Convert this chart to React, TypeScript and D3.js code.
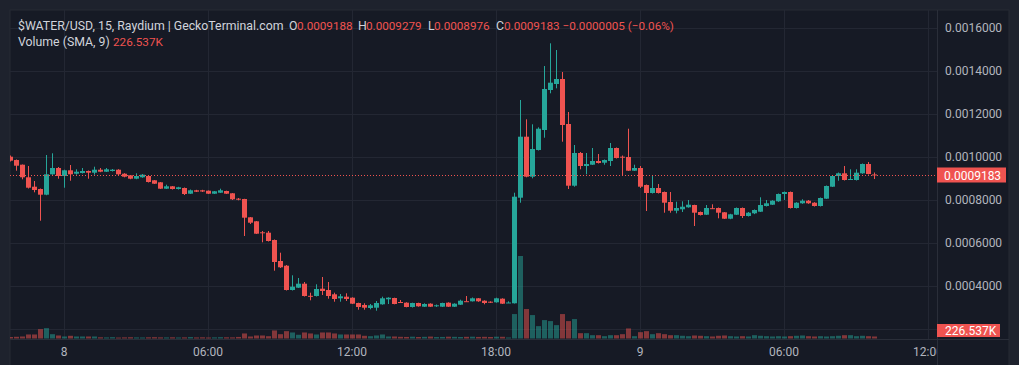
import * as d3 from 'd3';

// $WATER/USD 15m candles, first bar = Jun 7 21:45 (index 0), last bar = Jun 9 09:30
const startTime = new Date(2024, 5, 7, 21, 45);
const barMs = 15 * 60 * 1000;

const open = [
  10014e-7, 9860e-7, 9642e-7, 9056e-7, 8619e-7, 8512e-7, 8247e-7, 9195e-7, 9488e-7, 9116e-7,
  9381e-7, 9223e-7, 9256e-7, 9349e-7, 9270e-7, 9409e-7, 9316e-7, 9349e-7, 9409e-7, 9223e-7,
  9149e-7, 8991e-7, 9056e-7, 9116e-7, 8916e-7, 8823e-7, 8526e-7, 8637e-7, 8512e-7, 8558e-7,
  8293e-7, 8451e-7, 8451e-7, 8433e-7, 8293e-7, 8340e-7, 8419e-7, 8312e-7, 8061e-7, 8047e-7,
  7195e-7, 7009e-7, 6498e-7, 6479e-7, 6140e-7, 5163e-7, 4944e-7, 3814e-7, 3921e-7, 4107e-7,
  3544e-7, 3535e-7, 3875e-7, 3814e-7, 3614e-7, 3428e-7, 3503e-7, 3456e-7, 3210e-7, 3117e-7,
  2977e-7, 2991e-7, 3149e-7, 3382e-7, 3442e-7, 3256e-7, 3224e-7, 3024e-7, 3210e-7, 3037e-7,
  3177e-7, 3056e-7, 3037e-7, 3224e-7, 3037e-7, 3130e-7, 3293e-7, 3288e-7, 3428e-7, 3316e-7,
  3270e-7, 3242e-7, 3410e-7, 3214e-7, 3196e-7, 8107e-7, 10944e-7, 9084e-7, 10326e-7, 11256e-7,
  13116e-7, 13395e-7, 13628e-7, 11535e-7, 8665e-7, 10186e-7, 9581e-7, 9642e-7, 9814e-7, 9735e-7,
  9814e-7, 10419e-7, 10014e-7, 10000e-7, 9363e-7, 9488e-7, 8698e-7, 8326e-7, 8558e-7, 8372e-7,
  7907e-7, 7502e-7, 7568e-7, 7661e-7, 7767e-7, 7442e-7, 7316e-7, 7619e-7, 7628e-7, 7428e-7,
  7130e-7, 7316e-7, 7628e-7, 7256e-7, 7381e-7, 7456e-7, 7721e-7, 7781e-7, 7940e-7, 8279e-7,
  8372e-7, 7628e-7, 7847e-7, 7967e-7, 7874e-7, 7721e-7, 8061e-7, 8619e-7, 9116e-7, 9242e-7,
  8963e-7, 8930e-7, 9242e-7, 9674e-7, 9188e-7,
];

const close = [
  9828e-7, 9595e-7, 9056e-7, 8572e-7, 8465e-7, 8247e-7, 9195e-7, 9488e-7, 9116e-7, 9381e-7,
  9195e-7, 9316e-7, 9349e-7, 9270e-7, 9409e-7, 9316e-7, 9428e-7, 9409e-7, 9195e-7, 9084e-7,
  8991e-7, 9116e-7, 9177e-7, 8837e-7, 8758e-7, 8526e-7, 8637e-7, 8512e-7, 8591e-7, 8279e-7,
  8451e-7, 8386e-7, 8395e-7, 8293e-7, 8405e-7, 8451e-7, 8293e-7, 8033e-7, 8014e-7, 7177e-7,
  6944e-7, 6433e-7, 6474e-7, 6093e-7, 5116e-7, 4870e-7, 3814e-7, 3968e-7, 4107e-7, 3535e-7,
  3521e-7, 3861e-7, 3768e-7, 3535e-7, 3396e-7, 3521e-7, 3396e-7, 3177e-7, 3024e-7, 2991e-7,
  3103e-7, 3210e-7, 3428e-7, 3456e-7, 3163e-7, 3242e-7, 3024e-7, 3210e-7, 3056e-7, 3163e-7,
  3037e-7, 3103e-7, 3210e-7, 3037e-7, 3177e-7, 3316e-7, 3284e-7, 3428e-7, 3288e-7, 3210e-7,
  3233e-7, 3428e-7, 3177e-7, 3233e-7, 8154e-7, 10944e-7, 9084e-7, 10372e-7, 11316e-7, 13163e-7,
  13456e-7, 13628e-7, 11488e-7, 8665e-7, 10186e-7, 9581e-7, 9674e-7, 9814e-7, 9721e-7, 9860e-7,
  10419e-7, 9953e-7, 9986e-7, 9363e-7, 9488e-7, 8619e-7, 8326e-7, 8558e-7, 8326e-7, 7874e-7,
  7502e-7, 7628e-7, 7688e-7, 7781e-7, 7409e-7, 7302e-7, 7628e-7, 7605e-7, 7409e-7, 7130e-7,
  7335e-7, 7628e-7, 7256e-7, 7409e-7, 7535e-7, 7767e-7, 7847e-7, 7967e-7, 8279e-7, 8372e-7,
  7628e-7, 7874e-7, 7967e-7, 7847e-7, 7721e-7, 8093e-7, 8651e-7, 9116e-7, 9242e-7, 8930e-7,
  8977e-7, 9270e-7, 9674e-7, 9209e-7, 9183e-7,
];

const high = [
  10070e-7, 9884e-7, 9651e-7, 9581e-7, 8884e-7, 8535e-7, 10093e-7, 10172e-7, 9535e-7, 9409e-7,
  9628e-7, 9428e-7, 9488e-7, 9372e-7, 9549e-7, 9488e-7, 9488e-7, 9442e-7, 9433e-7, 9247e-7,
  9163e-7, 9242e-7, 9209e-7, 9140e-7, 8930e-7, 8837e-7, 8712e-7, 8651e-7, 8614e-7, 8581e-7,
  8488e-7, 8474e-7, 8474e-7, 8442e-7, 8419e-7, 8526e-7, 8433e-7, 8326e-7, 8093e-7, 8056e-7,
  7209e-7, 7023e-7, 6558e-7, 6558e-7, 6163e-7, 5549e-7, 4977e-7, 4498e-7, 4372e-7, 4186e-7,
  3689e-7, 4079e-7, 4419e-7, 4186e-7, 3689e-7, 3628e-7, 3661e-7, 3475e-7, 3224e-7, 3196e-7,
  3163e-7, 3302e-7, 3503e-7, 3475e-7, 3456e-7, 3349e-7, 3242e-7, 3224e-7, 3224e-7, 3196e-7,
  3196e-7, 3140e-7, 3224e-7, 3242e-7, 3196e-7, 3363e-7, 3535e-7, 3465e-7, 3442e-7, 3335e-7,
  3288e-7, 3456e-7, 3428e-7, 3288e-7, 8340e-7, 12651e-7, 11753e-7, 11521e-7, 11381e-7, 14232e-7,
  15288e-7, 14977e-7, 13953e-7, 12093e-7, 10558e-7, 10233e-7, 10186e-7, 10419e-7, 10140e-7, 9884e-7,
  10651e-7, 10442e-7, 10070e-7, 11316e-7, 9642e-7, 9581e-7, 8721e-7, 9116e-7, 8744e-7, 8395e-7,
  8372e-7, 7921e-7, 7940e-7, 8000e-7, 7781e-7, 7465e-7, 7767e-7, 7800e-7, 7651e-7, 7442e-7,
  7358e-7, 7651e-7, 7651e-7, 7442e-7, 7558e-7, 8126e-7, 8000e-7, 7991e-7, 8302e-7, 8395e-7,
  8395e-7, 7898e-7, 8033e-7, 8000e-7, 7898e-7, 8116e-7, 8674e-7, 9140e-7, 9279e-7, 9581e-7,
  9428e-7, 9428e-7, 9698e-7, 9767e-7, 9279e-7,
];

const low = [
  9791e-7, 9363e-7, 8963e-7, 8535e-7, 8358e-7, 7037e-7, 8223e-7, 9172e-7, 8991e-7, 8572e-7,
  8898e-7, 9177e-7, 9233e-7, 8991e-7, 9177e-7, 9293e-7, 9302e-7, 9326e-7, 9163e-7, 9056e-7,
  8967e-7, 8967e-7, 9033e-7, 8814e-7, 8744e-7, 8512e-7, 8512e-7, 8488e-7, 8488e-7, 8233e-7,
  8279e-7, 8372e-7, 8372e-7, 8279e-7, 8279e-7, 8326e-7, 8279e-7, 8000e-7, 7986e-7, 6326e-7,
  6884e-7, 6419e-7, 6033e-7, 6070e-7, 4712e-7, 4837e-7, 3791e-7, 3791e-7, 3907e-7, 3512e-7,
  3335e-7, 3512e-7, 3582e-7, 3410e-7, 3270e-7, 3270e-7, 3302e-7, 3163e-7, 2898e-7, 2898e-7,
  2916e-7, 2851e-7, 3130e-7, 3163e-7, 3149e-7, 3224e-7, 3009e-7, 3000e-7, 3037e-7, 3024e-7,
  3024e-7, 3024e-7, 3024e-7, 3024e-7, 3024e-7, 3117e-7, 3270e-7, 3279e-7, 3265e-7, 3149e-7,
  3210e-7, 3224e-7, 3163e-7, 3210e-7, 3186e-7, 7874e-7, 9056e-7, 9009e-7, 10302e-7, 10898e-7,
  12963e-7, 13195e-7, 10712e-7, 8512e-7, 8619e-7, 9428e-7, 9195e-7, 9628e-7, 9698e-7, 9642e-7,
  9581e-7, 9930e-7, 9130e-7, 9349e-7, 9349e-7, 8558e-7, 7488e-7, 8302e-7, 8302e-7, 7409e-7,
  7409e-7, 7381e-7, 7442e-7, 7642e-7, 6791e-7, 7279e-7, 7302e-7, 7581e-7, 7149e-7, 7116e-7,
  7107e-7, 7302e-7, 7163e-7, 7233e-7, 7344e-7, 7442e-7, 7698e-7, 7767e-7, 7916e-7, 8000e-7,
  7605e-7, 7605e-7, 7823e-7, 7823e-7, 7698e-7, 7698e-7, 8047e-7, 8605e-7, 8898e-7, 8907e-7,
  8930e-7, 8907e-7, 9219e-7, 9186e-7, 8976e-7,
];

// volume in thousands
const volumeK = [
  126, 143, 168, 336, 336, 781, 865, 361, 252, 168,
  227, 168, 168, 168, 168, 100, 90, 110, 80, 95,
  105, 90, 85, 100, 110, 95, 90, 100, 85, 95,
  120, 90, 100, 85, 95, 110, 100, 95, 130, 420,
  168, 252, 252, 193, 672, 361, 613, 504, 311, 504,
  420, 336, 504, 504, 420, 336, 336, 336, 336, 227,
  193, 252, 336, 168, 168, 140, 130, 150, 126, 140,
  160, 120, 130, 150, 140, 126, 140, 150, 130, 140,
  126, 150, 143, 84, 2041, 6888, 2461, 1957, 1033, 1537,
  1453, 1117, 2041, 1453, 1621, 445, 445, 277, 277, 193,
  277, 277, 361, 840, 193, 529, 613, 361, 445, 361,
  277, 277, 227, 193, 252, 227, 193, 168, 227, 252,
  193, 168, 193, 168, 277, 227, 193, 168, 193, 168,
  193, 227, 252, 193, 168, 193, 168, 193, 227, 277,
  277, 193, 227, 193, 168,
];

const priceTicks = [0.0002, 0.0004, 0.0006, 0.0008, 0.001, 0.0012, 0.0014, 0.0016];
const volumeSmaLabel = '226.537K';
const header = {
  title: '$WATER/USD, 15, Raydium | GeckoTerminal.com',
  o: '0.0009188',
  h: '0.0009279',
  l: '0.0008976',
  c: '0.0009183',
  change: '\u22120.0000005 (\u22120.06%)',
};

const UP = '#26a69a';
const DOWN = '#ef5350';
const FONT = "Roboto, 'Noto Sans', sans-serif";

export default function App() {
  const W = 1019;
  const H = 365;
  const plot = { left: 10, right: 937, top: 10, bottom: 339 };

  const x = d3
    .scaleTime()
    .domain([startTime, new Date(+startTime + 154.5 * barMs)])
    .range([plot.left, plot.right]);
  const y = d3.scaleLinear().domain([0.0002, 0.0016]).range([329, 28]);
  const yv = d3
    .scaleLinear()
    .domain([0, d3.max(volumeK) as number])
    .range([338.5, 256]);

  const bars = open.map((o, i) => ({
    t: new Date(+startTime + i * barMs),
    o,
    h: high[i],
    l: low[i],
    c: close[i],
    v: volumeK[i],
  }));

  const timeTicks = x.ticks(d3.timeHour.every(6) as d3.TimeInterval);
  const fmtTime = (d: Date) => (d.getHours() === 0 ? d3.timeFormat('%-d')(d) : d3.timeFormat('%H:%M')(d));
  const fmtPrice = d3.format('.7f');

  const last = bars[bars.length - 1];
  const lastY = Math.round(y(last.c)) + 0.5;

  return (
    <svg width={W} height={H} style={{ position: 'absolute', left: 0, top: 0, display: 'block' }} fontFamily={FONT}>
      <defs>
        <clipPath id="plotClip">
          <rect x={plot.left} y={plot.top} width={plot.right - plot.left} height={plot.bottom - plot.top} />
        </clipPath>
        <clipPath id="timeClip">
          <rect x={plot.left} y={plot.bottom} width={plot.right - plot.left} height={H - plot.bottom} />
        </clipPath>
      </defs>
      <rect width={W} height={H} fill="#1e222d" />
      <rect x={plot.left} y={plot.top} width={1009 - plot.left} height={H} fill="#161a25" stroke="#262a35" />

      {/* grid */}
      <g stroke="#232733" strokeWidth={1}>
        {priceTicks.map((p) => (
          <line key={p} x1={plot.left} x2={plot.right} y1={Math.round(y(p)) + 0.5} y2={Math.round(y(p)) + 0.5} />
        ))}
        {timeTicks.map((d) => (
          <line key={+d} x1={Math.round(x(d)) + 0.5} x2={Math.round(x(d)) + 0.5} y1={plot.top} y2={plot.bottom} />
        ))}
      </g>

      <g clipPath="url(#plotClip)">
        {/* volume */}
        {bars.map((b, i) => {
          const cx = Math.round(x(b.t));
          const top = yv(b.v);
          return (
            <rect
              key={'v' + i}
              x={cx - 2}
              y={top}
              width={5}
              height={yv(0) - top}
              fill={b.c >= b.o ? 'rgba(38,166,154,0.5)' : 'rgba(239,83,80,0.5)'}
            />
          );
        })}
        {/* candles */}
        {bars.map((b, i) => {
          const cx = Math.round(x(b.t));
          const col = b.c >= b.o ? UP : DOWN;
          const yTop = y(Math.max(b.o, b.c));
          const yBot = y(Math.min(b.o, b.c));
          return (
            <g key={'c' + i} fill={col}>
              <rect x={cx} y={y(b.h)} width={1} height={y(b.l) - y(b.h)} />
              <rect x={cx - 2} y={yTop} width={5} height={Math.max(1, yBot - yTop)} />
            </g>
          );
        })}
        {/* last price line */}
        <line x1={plot.left} x2={plot.right} y1={lastY} y2={lastY} stroke={DOWN} strokeDasharray="1 2" />
      </g>

      {/* axes separators */}
      <line x1={plot.right + 0.5} x2={plot.right + 0.5} y1={plot.top} y2={H} stroke="#2a2e39" />
      <line x1={plot.left} x2={1009} y1={plot.bottom + 0.5} y2={plot.bottom + 0.5} stroke="#2a2e39" />

      {/* price axis labels */}
      <g fill="#b2b5be" fontSize={12}>
        {priceTicks
          .filter((p) => p > 0.0003)
          .map((p) => (
            <text key={p} x={945} y={y(p)} dy="0.35em">
              {fmtPrice(p)}
            </text>
          ))}
      </g>

      {/* time axis labels */}
      <g fill="#b2b5be" fontSize={12} textAnchor="middle" clipPath="url(#timeClip)">
        {timeTicks.map((d) => (
          <text key={+d} x={x(d)} y={352} dy="0.35em">
            {fmtTime(d)}
          </text>
        ))}
      </g>

      {/* last price label */}
      <rect x={plot.right} y={lastY - 8} width={69} height={15} fill={DOWN} />
      <text x={944} y={lastY} dy="0.35em" fill="#ffffff" fontSize={12}>
        {fmtPrice(last.c)}
      </text>

      {/* volume SMA label */}
      <rect x={plot.right} y={324} width={63} height={13} fill={DOWN} />
      <text x={945} y={330.5} dy="0.35em" fill="#ffffff" fontSize={12}>
        {volumeSmaLabel}
      </text>

      {/* legend */}
      <g fontSize={12.3} fill="#d1d4dc">
        <text x={18} y={29.5}>{header.title}</text>
        <text x={289} y={29.5}>O</text>
        <text x={358} y={29.5}>H</text>
        <text x={428} y={29.5}>L</text>
        <text x={496} y={29.5}>C</text>
        <text x={18} y={45.5}>Volume (SMA, 9)</text>
        <g fill={DOWN} fontSize={11.7}>
          <text x={297} y={29.5}>{header.o}</text>
          <text x={366} y={29.5}>{header.h}</text>
          <text x={434} y={29.5}>{header.l}</text>
          <text x={504} y={29.5}>{header.c + ' ' + header.change}</text>
          <text x={113} y={45.5}>{volumeSmaLabel}</text>
        </g>
      </g>
    </svg>
  );
}
